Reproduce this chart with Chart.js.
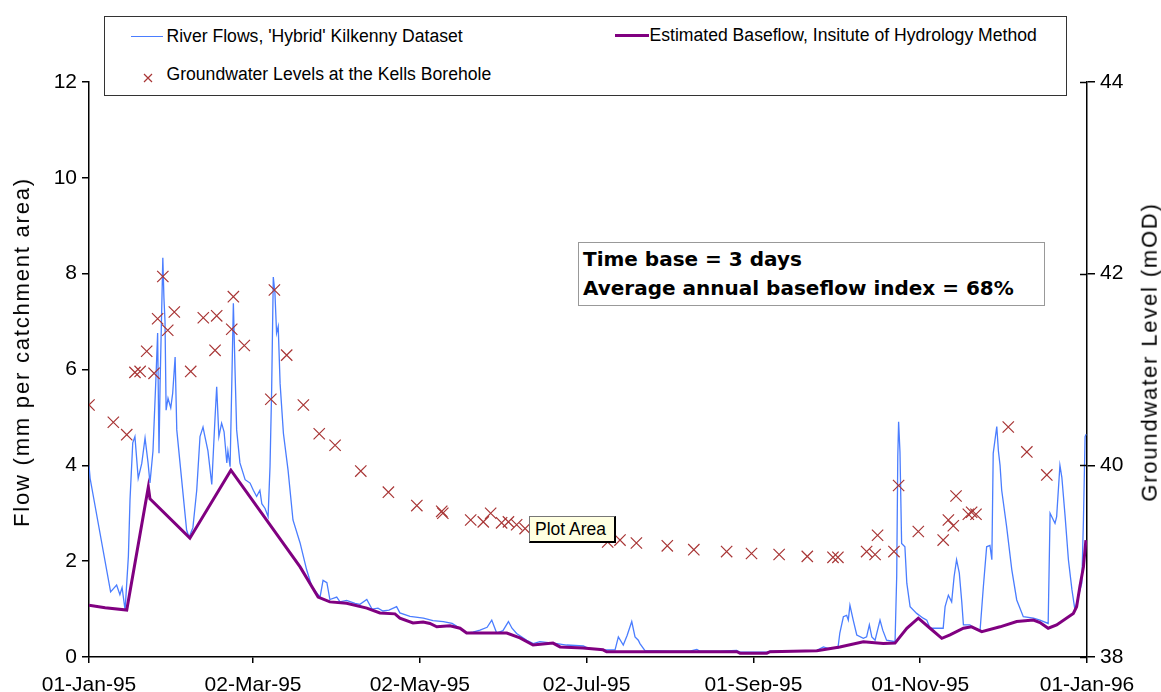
<!DOCTYPE html>
<html>
<head>
<meta charset="utf-8">
<script src="https://cdn.jsdelivr.net/npm/chart.js@4.4.1/dist/chart.umd.min.js"></script>
<style>
  html, body { margin: 0; padding: 0; background: #fff; }
  #wrap { position: relative; width: 1161px; height: 692px; font-family: "Liberation Sans", Arial, sans-serif; color: #000; }
  #c { position: absolute; left: 0; top: 0; }
  .abs { position: absolute; white-space: nowrap; }
  #legend { left: 104px; top: 16px; width: 963px; height: 80px; box-sizing: border-box; border: 1.5px solid #333; background: #fff; }
  .lt { font-size: 17.6px; line-height: 20px; }
  #note { left: 578px; top: 242px; width: 467px; height: 64px; box-sizing: border-box; border: 1.5px solid #999; background: #fff;
          font-family: "DejaVu Sans", Verdana, sans-serif; font-weight: bold; font-size: 20px; line-height: 29px; padding: 2px 0 0 4px; }
  #tip { left: 529px; top: 516px; width: 87px; height: 27px; box-sizing: border-box; background: #FFFFE1;
         border: 1px solid #777; border-right: 2px solid #000; border-bottom: 2px solid #000; font-size: 17.5px; line-height: 24px; padding-left: 5px; }
  .ytitle { font-size: 22px; letter-spacing: 1.8px; line-height: 24px; transform-origin: center center; }
</style>
</head>
<body>
<div id="wrap">
  <canvas id="c" width="1161" height="692"></canvas>
  <div id="legend" class="abs"></div>
  <div id="note" class="abs">Time base = 3 days<br>Average annual baseflow index = 68%</div>
  <div id="tip" class="abs">Plot Area</div>
  <div id="ltitle" class="abs ytitle">Flow (mm per catchment area)</div>
  <div id="rtitle" class="abs ytitle">Groundwater Level (mOD)</div>
</div>
<script>
// ---- Data (day number from 01-Jan-95) ----
const tickDays = [0, 60, 121, 182, 243, 304, 365];
const tickLabels = ["01-Jan-95", "02-Mar-95", "02-May-95", "02-Jul-95", "01-Sep-95", "01-Nov-95", "01-Jan-96"];
const flowTicks = [0, 2, 4, 6, 8, 10, 12];
const levelTicks = [38, 40, 42, 44];

const seriesNames = ["River Flows, 'Hybrid' Kilkenny Dataset", "Estimated Baseflow, Insitute of Hydrology Method", "Groundwater Levels at the Kells Borehole"];

const flowDays = [0,0.4,7.9,10.1,11.3,12.1,13.2,14.4,15.0,16.0,16.8,18.0,19.3,20.5,21.6,22.3,23.4,24.5,25.1,25.6,26.0,27.0,27.4,27.8,28.2,28.9,29.9,30.6,31.5,32.1,33.3,35.7,36.6,38.0,39.4,40.6,41.7,42.4,43.5,44.9,46.1,46.7,47.5,48.5,49.4,50.4,50.8,51.6,52.2,52.8,53.4,54.0,55.2,57.1,58.9,60.1,61.3,62.5,63.2,64.4,65.5,66.2,66.8,67.4,68.0,68.6,69.2,69.9,71.1,72.8,74.6,77.2,79.6,81.5,84.5,85.6,87.0,88.1,90.6,91.8,94.2,97.3,99.1,101.6,103.5,105.7,107.5,109.7,112.5,113.7,117.4,122.3,125.8,129.6,132.8,135.7,138.1,140.4,143.0,145.6,147.3,149.1,151.4,153.4,154.7,156.4,160.1,162.5,164.9,171.1,174.7,180.8,182.6,188.1,192.4,193.6,195.4,196.8,198.5,199.7,200.9,201.5,203.4,212.5,219.8,222.3,223.5,230.8,236.9,238.1,247.9,249.1,260.1,266.2,268.6,270.3,273.9,274.6,275.9,277.1,277.7,278.3,279.5,280.8,283.2,284.4,285.4,286.3,287.5,289.3,290.3,291.7,294.8,295.4,295.8,296.1,296.6,297.2,298.4,299.1,300.3,302.7,305.1,306.4,307.6,312.4,313.1,314.3,315.5,316.4,317.3,318.3,319.2,319.8,322.2,323.4,325.9,327.1,328.3,329.5,330.2,330.7,332.0,332.6,333.2,333.8,335.6,337.5,339.3,341.7,345.4,347.8,350.8,351.5,352.7,353.3,353.9,355.1,355.8,357.0,358.2,359.5,360.6,361.8,363.1,363.7,364.3,364.7];
const flowValues = [4.0,3.73,1.36,1.5,1.3,1.45,0.98,2.1,3.28,4.47,4.6,3.73,4.04,4.57,4.05,3.63,4.3,5.85,6.76,4.25,5.7,8.33,7.5,7.0,5.15,5.4,5.2,5.5,6.26,4.74,4.04,2.65,2.5,2.7,3.48,4.6,4.8,4.6,4.3,3.6,5.0,5.64,4.6,4.88,4.7,4.05,4.3,3.97,5.64,7.38,6.0,4.74,4.05,3.7,3.63,3.48,3.35,3.48,3.2,3.1,2.93,3.97,5.57,7.93,7.6,6.76,6.9,5.7,4.67,3.9,2.86,2.38,1.82,1.47,1.25,1.6,1.55,1.2,1.25,1.15,1.18,1.12,1.1,1.2,1.0,1.02,0.96,0.98,1.05,0.92,0.85,0.81,0.76,0.74,0.7,0.6,0.5,0.52,0.56,0.62,0.77,0.5,0.55,0.74,0.6,0.49,0.35,0.28,0.32,0.28,0.25,0.23,0.18,0.15,0.15,0.42,0.25,0.45,0.74,0.42,0.35,0.28,0.13,0.12,0.12,0.16,0.12,0.12,0.14,0.1,0.1,0.12,0.12,0.14,0.21,0.18,0.18,0.5,0.84,0.87,0.77,1.08,0.77,0.46,0.39,0.42,0.67,0.42,0.35,0.77,0.56,0.35,0.32,1.68,4.18,4.91,4.28,2.37,2.3,1.54,1.05,0.91,0.81,0.77,0.6,0.6,1.05,1.29,1.15,1.68,2.03,1.75,1.15,0.67,0.67,0.6,0.56,1.47,2.3,2.33,2.03,4.25,4.81,4.3,4.0,3.48,2.72,1.82,1.19,0.84,0.81,0.77,0.7,3.0,2.86,2.79,2.93,4.0,3.75,2.93,2.03,1.4,0.98,1.26,1.54,2.86,4.6,4.65];

const baseDays = [0,5.9,13.8,21.7,22.3,36.9,51.9,77.2,83.8,88.1,94.2,101.6,106.4,111.9,113.7,118.5,122.2,124.7,127.2,132.0,135.7,138.1,152.8,157.6,162.4,169.7,172.3,180.7,188.0,189.3,236.9,238.1,247.9,249.1,266.2,274.6,283.2,290.5,294.8,296.6,299.1,303.3,307.6,311.9,314.9,319.8,322.8,326.5,333.2,339.3,345.4,347.8,350.8,353.9,360.0,361.2,362.4,363.7,364.6];
const baseValues = [1.08,1.03,0.98,3.55,3.3,2.48,3.9,1.88,1.25,1.15,1.12,1.02,0.92,0.9,0.81,0.71,0.73,0.7,0.63,0.65,0.6,0.5,0.5,0.4,0.25,0.29,0.21,0.19,0.15,0.11,0.11,0.08,0.08,0.11,0.13,0.21,0.32,0.28,0.29,0.42,0.6,0.81,0.6,0.39,0.46,0.6,0.63,0.53,0.63,0.74,0.77,0.72,0.6,0.67,0.91,1.05,1.47,1.88,2.44];

const levelDays = [0,8.9,13.8,16.8,18.7,21.1,23.8,25.1,27.0,28.8,31.2,37.2,41.8,46.1,46.7,52.2,52.8,56.8,66.5,67.8,72.3,78.4,84.2,90.0,99.4,109.5,119.9,129.0,129.4,139.6,144.2,146.9,150.9,153.4,156.4,159.5,189.7,194.2,200.2,211.5,221.2,233.2,242.3,252.4,262.7,272.1,273.9,284.4,287.5,288.4,294.4,296.1,303.3,312.4,314.3,316.1,317.1,321.6,322.8,324.4,336.2,343.0,350.3];
const levelValues = [40.63,40.45,40.32,40.97,40.98,41.19,40.96,41.53,41.97,41.41,41.6,40.98,41.54,41.2,41.56,41.42,41.76,41.25,40.69,41.83,41.15,40.63,40.33,40.21,39.94,39.72,39.58,39.52,39.5,39.43,39.41,39.5,39.4,39.41,39.38,39.34,39.2,39.22,39.19,39.16,39.12,39.1,39.08,39.07,39.05,39.04,39.04,39.1,39.07,39.27,39.1,39.79,39.31,39.22,39.43,39.37,39.68,39.49,39.51,39.49,40.4,40.14,39.9];

// ---- Styles ----
const FLOW_COLOR = '#4a7dff';
const BASE_COLOR = '#800080';
const LEVEL_COLOR = '#a83535';
const TICK_FONT = { family: '"Liberation Sans", Arial, sans-serif', size: 21 };

const toXY = (xs, ys) => xs.map((x, i) => ({ x: x, y: ys[i] }));

// legend HTML
(function buildLegend() {
  const lg = document.getElementById('legend');
  const off = (x, y) => [x - 104 - 1.5, y - 16 - 1.5];
  function add(html, x, y) {
    const [l, t] = off(x, y);
    const d = document.createElement('div');
    d.className = 'abs';
    d.style.left = l + 'px'; d.style.top = t + 'px';
    d.innerHTML = html;
    lg.appendChild(d);
    return d;
  }
  add('<div style="width:32px;height:1.5px;background:' + FLOW_COLOR + '"></div>', 131, 36);
  add('<span class="lt">' + seriesNames[0] + '</span>', 167, 26);
  add('<div style="width:34px;height:3px;background:' + BASE_COLOR + '"></div>', 615, 34);
  add('<span class="lt">' + seriesNames[1] + '</span>', 650, 25);
  add('<svg width="10" height="10" viewBox="0 0 10 10"><path d="M1 1 L9 9 M9 1 L1 9" stroke="' + LEVEL_COLOR + '" stroke-width="1.2"/></svg>', 143, 69);
  add('<span class="lt">' + seriesNames[2] + '</span>', 167, 64);
})();

// axis titles (rotated, reading bottom to top)
(function titles() {
  const lt = document.getElementById('ltitle');
  const rt = document.getElementById('rtitle');
  [[lt, 22, 352], [rt, 1149, 352]].forEach(([el, cx, cy]) => {
    const w = el.offsetWidth, h = el.offsetHeight;
    el.style.left = (cx - w / 2) + 'px';
    el.style.top = (cy - h / 2) + 'px';
    el.style.transform = 'rotate(-90deg)';
  });
})();

const innerTicks = {
  id: 'innerTicks',
  afterDraw(chart) {
    const s = chart.scales.y1, ctx = chart.ctx;
    ctx.save();
    ctx.strokeStyle = '#000';
    ctx.lineWidth = 1.5;
    s.ticks.forEach(t => {
      const y = Math.round(s.getPixelForValue(t.value)) + 0.5;
      ctx.beginPath();
      ctx.moveTo(s.left - 7, y);
      ctx.lineTo(s.left, y);
      ctx.stroke();
    });
    ctx.restore();
  }
};

new Chart(document.getElementById('c'), {
  type: 'line',
  data: {
    datasets: [
      { label: seriesNames[0], data: toXY(flowDays, flowValues), yAxisID: 'y', borderColor: FLOW_COLOR, borderWidth: 1.3, pointRadius: 0, tension: 0, order: 3 },
      { label: seriesNames[1], data: toXY(baseDays, baseValues), yAxisID: 'y', borderColor: BASE_COLOR, borderWidth: 3, pointRadius: 0, tension: 0, order: 2 },
      { label: seriesNames[2], data: toXY(levelDays, levelValues), yAxisID: 'y1', showLine: false, pointStyle: 'crossRot', pointRadius: 8, pointBorderWidth: 1.2, borderColor: LEVEL_COLOR, backgroundColor: LEVEL_COLOR, order: 1 }
    ]
  },
  options: {
    responsive: false,
    animation: false,
    events: [],
    layout: { padding: { top: 82, left: 0, right: 0, bottom: 0 } },
    plugins: { legend: { display: false }, tooltip: { enabled: false } },
    scales: {
      x: {
        type: 'linear', min: 0, max: 365,
        afterBuildTicks: s => { s.ticks = tickDays.map(v => ({ value: v })); },
        afterFit: s => { s.height = 35; },
        ticks: { autoSkip: false, maxRotation: 0, color: '#000', font: TICK_FONT, padding: 10, callback: (v, i) => tickLabels[i] },
        grid: { drawOnChartArea: false, drawTicks: true, tickLength: 6, color: '#000', lineWidth: 1.5 },
        border: { display: true, color: '#000', width: 1.5 }
      },
      y: {
        position: 'left', min: 0, max: 12,
        afterBuildTicks: s => { s.ticks = flowTicks.map(v => ({ value: v })); },
        afterFit: s => { s.width = 89; },
        ticks: { color: '#000', font: TICK_FONT, padding: 5 },
        grid: { drawOnChartArea: false, drawTicks: true, tickLength: 7, color: '#000', lineWidth: 1.5 },
        border: { display: true, color: '#000', width: 1.5 }
      },
      y1: {
        position: 'right', min: 38, max: 44,
        afterBuildTicks: s => { s.ticks = levelTicks.map(v => ({ value: v })); },
        afterFit: s => { s.width = 74; },
        ticks: { color: '#000', font: TICK_FONT, padding: 5 },
        grid: { drawOnChartArea: false, drawTicks: true, tickLength: 8, color: '#000', lineWidth: 1.5 },
        border: { display: true, color: '#000', width: 1.5 }
      }
    }
  },
  plugins: [innerTicks]
});
</script>
</body>
</html>
